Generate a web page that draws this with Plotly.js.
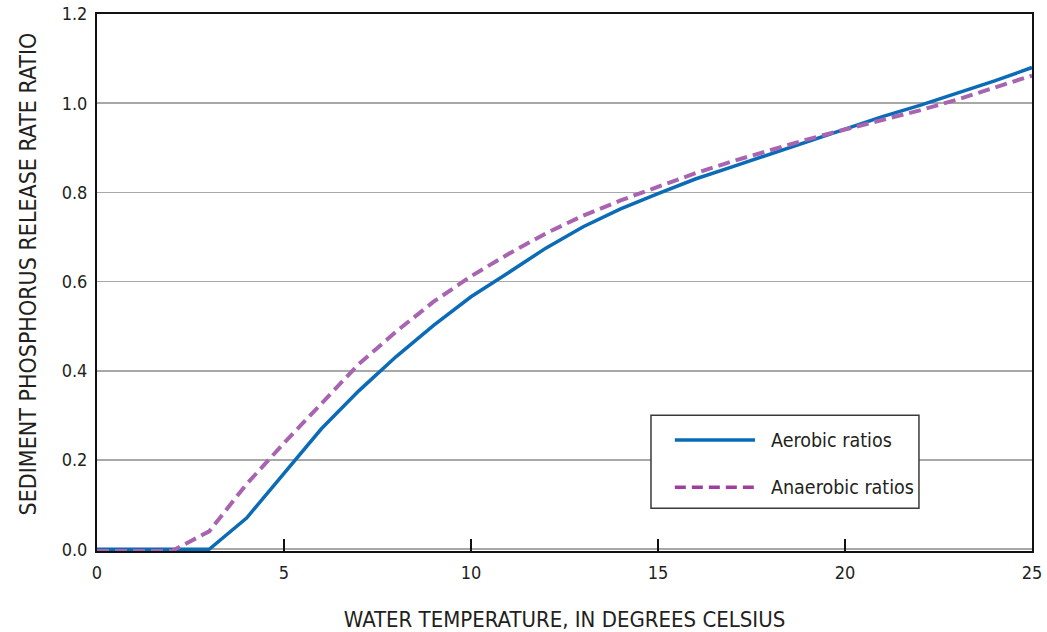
<!DOCTYPE html>
<html>
<head>
<meta charset="utf-8">
<script src="https://cdn.plot.ly/plotly-3.0.1.min.js"></script>
<style>
  html, body { margin: 0; padding: 0; background: #fff; }
  #chart { width: 1047px; height: 632px; }
</style>
</head>
<body>
<div id="chart"></div>
<script>
// Water temperature, degrees Celsius
const temperature = [0, 1, 2, 3, 4, 5, 6, 7, 8, 9, 10, 11, 12, 13, 14, 15, 16, 17, 18, 19, 20, 21, 22, 23, 24, 25];

// Sediment phosphorus release rate ratios
const aerobicRatios = [0, 0, 0, 0, 0.07, 0.17, 0.27, 0.355, 0.432, 0.502, 0.566, 0.62, 0.675, 0.723, 0.763, 0.797, 0.83, 0.858, 0.886, 0.914, 0.942, 0.97, 0.995, 1.022, 1.05, 1.08];
const anaerobicRatios = [-0.004, -0.004, -0.004, 0.04, 0.146, 0.238, 0.328, 0.415, 0.488, 0.555, 0.612, 0.662, 0.708, 0.748, 0.782, 0.812, 0.843, 0.87, 0.895, 0.919, 0.941, 0.962, 0.984, 1.008, 1.034, 1.062];

const seriesNames = ["Aerobic ratios", "Anaerobic ratios"];
const yTicks = [0, 0.2, 0.4, 0.6, 0.8, 1.0, 1.2];
const yTickText = ["0.0", "0.2", "0.4", "0.6", "0.8", "1.0", "1.2"];
const xTicks = [0, 5, 10, 15, 20, 25];
const xTitle = 'WATER TEMPERATURE, IN DEGREES CELSIUS';
const yTitle = 'SEDIMENT PHOSPHORUS RELEASE RATE RATIO';

const FONT = '"DejaVu Sans Condensed", "Liberation Sans Narrow", "Roboto", sans-serif';
const TEXT = '#231f20';
const BLUE = '#0b6bb6';
const PURPLE = '#a964b1';

const traces = [
  {
    x: temperature, y: aerobicRatios, name: seriesNames[0],
    type: 'scatter', mode: 'lines', cliponaxis: false,
    line: { color: BLUE, width: 3.5 }
  },
  {
    x: temperature, y: anaerobicRatios, name: seriesNames[1],
    type: 'scatter', mode: 'lines', cliponaxis: false,
    line: { color: PURPLE, width: 4, dash: '12px,6px' }
  }
];

// Legend box drawn in paper coordinates
const lg = { x0: 0.5925, x1: 0.8791, y0: 0.0795, y1: 0.2530 };
const rowA = 0.2065, rowB = 0.1188;
const shapes = [
  { type: 'rect', xref: 'paper', yref: 'paper', x0: lg.x0, x1: lg.x1, y0: lg.y0, y1: lg.y1,
    line: { color: '#3a3a3a', width: 1.5 }, fillcolor: '#ffffff', layer: 'above' },
  { type: 'line', xref: 'paper', yref: 'paper', x0: 0.618, x1: 0.7037, y0: rowA, y1: rowA,
    line: { color: BLUE, width: 3.5 }, layer: 'above' },
  { type: 'line', xref: 'paper', yref: 'paper', x0: 0.618, x1: 0.7037, y0: rowB, y1: rowB,
    line: { color: '#a13da0', width: 3.5, dash: '11px,6px' }, layer: 'above' }
];
const annotations = [
  { xref: 'paper', yref: 'paper', x: 0.7185, y: rowA, xanchor: 'left', yanchor: 'middle',
    text: seriesNames[0], showarrow: false, font: { family: FONT, size: 19.5, color: TEXT } },
  { xref: 'paper', yref: 'paper', x: 0.7185, y: rowB, xanchor: 'left', yanchor: 'middle',
    text: seriesNames[1], showarrow: false, font: { family: FONT, size: 19.5, color: TEXT } },
  // vertical axis title
  { xref: 'paper', yref: 'paper', x: 0, y: 0.515, xanchor: 'center', yanchor: 'middle',
    xshift: -69, textangle: -90, text: yTitle, showarrow: false,
    font: { family: FONT, size: 23, color: TEXT } }
];

const layout = {
  width: 1047, height: 632,
  margin: { l: 97, r: 15, t: 14, b: 81 },
  paper_bgcolor: '#ffffff', plot_bgcolor: '#ffffff',
  showlegend: false,
  font: { family: FONT, color: TEXT, size: 17 },
  xaxis: {
    range: [0, 25], tickvals: xTicks, ticktext: xTicks.map(String),
    ticks: 'inside', ticklen: 12, tickwidth: 2, tickcolor: '#111',
    ticklabelstandoff: 4,
    showline: true, linecolor: '#111', linewidth: 2, mirror: true,
    showgrid: false, zeroline: false, layer: 'below traces',
    tickfont: { family: FONT, size: 18, color: TEXT },
    title: { text: xTitle, standoff: 34,
             font: { family: FONT, size: 22, color: TEXT } }
  },
  yaxis: {
    range: [-0.004, 1.2], tickvals: yTicks, ticktext: yTickText,
    ticks: '', ticklabelstandoff: 4,
    showline: true, linecolor: '#111', linewidth: 2, mirror: true,
    showgrid: true, gridcolor: '#a8a8a8', gridwidth: 1.5, zeroline: false,
    layer: 'below traces',
    tickfont: { family: FONT, size: 18, color: TEXT }
  },
  shapes: shapes,
  annotations: annotations
};

Plotly.newPlot('chart', traces, layout, { displayModeBar: false, staticPlot: true });
</script>
</body>
</html>
